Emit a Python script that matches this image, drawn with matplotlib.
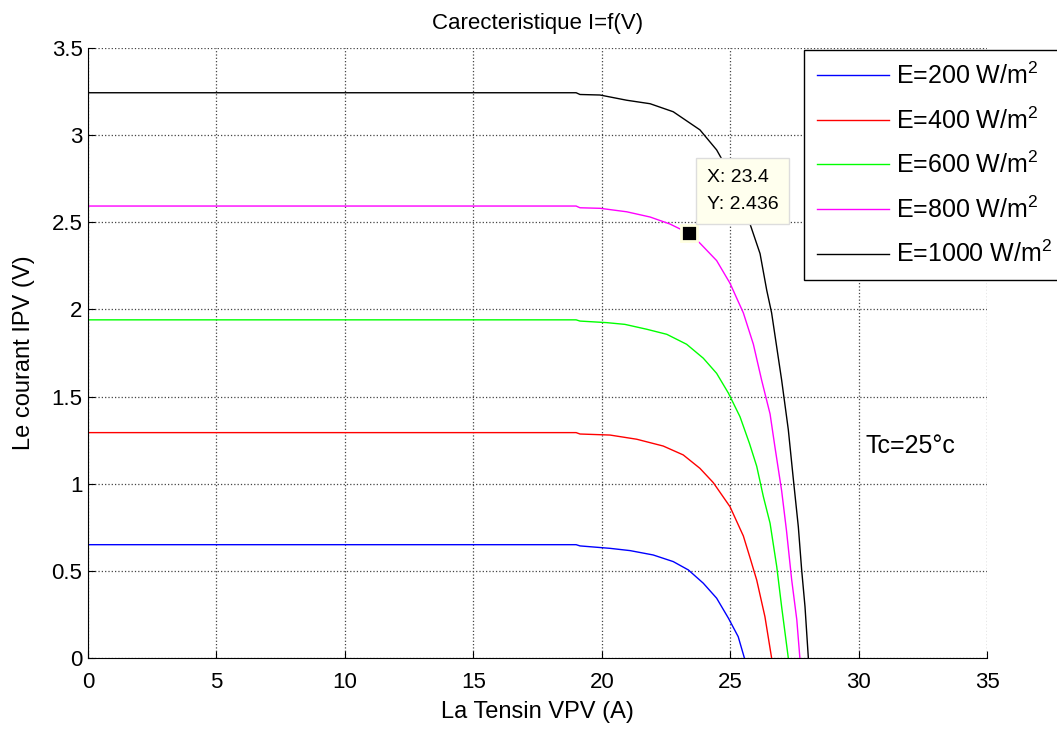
import matplotlib.pyplot as plt

plt.rcParams['font.family'] = ['Liberation Sans', 'DejaVu Sans']
plt.rcParams['mathtext.fontset'] = 'custom'
plt.rcParams['mathtext.rm'] = 'Liberation Sans'

# I-V curves, one per irradiance level
v_200 = [0, 19.0, 19.15, 20.32, 21.1, 22.0, 22.78, 23.37, 23.95, 24.47, 24.93, 25.31, 25.55]
i_200 = [0.650, 0.650, 0.643, 0.629, 0.616, 0.591, 0.553, 0.505, 0.429, 0.343, 0.228, 0.122, 0.0]

v_400 = [0, 19.0, 19.15, 20.32, 21.36, 22.39, 23.17, 23.82, 24.34, 24.99, 25.51, 25.77, 26.03, 26.35, 26.61]
i_400 = [1.293, 1.293, 1.285, 1.279, 1.255, 1.216, 1.165, 1.088, 1.006, 0.868, 0.700, 0.575, 0.447, 0.237, 0.0]

v_600 = [0, 19.0, 19.15, 20.19, 20.9, 21.75, 22.53, 23.3, 23.95, 24.47, 24.93, 25.38, 25.75, 26.03, 26.29, 26.55, 26.81, 27.0, 27.26]
i_600 = [1.940, 1.940, 1.933, 1.924, 1.914, 1.886, 1.857, 1.800, 1.720, 1.633, 1.519, 1.384, 1.230, 1.100, 0.925, 0.773, 0.524, 0.294, 0.0]

v_800 = [0, 19.0, 19.15, 19.93, 20.97, 21.88, 22.65, 23.4, 23.82, 24.47, 24.99, 25.51, 25.9, 26.22, 26.55, 26.74, 27.0, 27.19, 27.39, 27.59, 27.71]
i_800 = [2.593, 2.593, 2.583, 2.580, 2.560, 2.530, 2.490, 2.436, 2.380, 2.280, 2.150, 1.980, 1.800, 1.595, 1.400, 1.210, 0.960, 0.730, 0.450, 0.220, 0.0]

v_1000 = [0, 19.0, 19.15, 19.93, 20.97, 21.88, 22.78, 23.82, 24.47, 25.1, 25.77, 26.16, 26.42, 26.61, 27.0, 27.26, 27.46, 27.65, 27.78, 27.91, 28.04]
i_1000 = [3.243, 3.243, 3.233, 3.230, 3.200, 3.180, 3.134, 3.030, 2.915, 2.750, 2.490, 2.320, 2.110, 1.980, 1.595, 1.310, 1.020, 0.753, 0.505, 0.294, 0.0]

labels = ['E=200 W/m$^2$', 'E=400 W/m$^2$', 'E=600 W/m$^2$', 'E=800 W/m$^2$', 'E=1000 W/m$^2$']
colors = ['blue', 'red', 'lime', 'magenta', 'black']

# data tip
tip_x, tip_y = 23.4, 2.436

fig = plt.figure(figsize=(10.57, 7.31), dpi=100)
ax = fig.add_axes([0.0833, 0.0999, 0.8506, 0.8345])

series = [(v_200, i_200), (v_400, i_400), (v_600, i_600), (v_800, i_800), (v_1000, i_1000)]
for (v, i), lab, col in zip(series, labels, colors):
    ax.plot(v, i, color=col, lw=1.0, label=lab)

ax.set_xlim(0, 35)
ax.set_ylim(0, 3.5)
ax.set_xticks(range(0, 36, 5))
ax.set_yticks([0, 0.5, 1, 1.5, 2, 2.5, 3, 3.5])
ax.set_yticklabels(['0', '0.5', '1', '1.5', '2', '2.5', '3', '3.5'])
ax.grid(True, linestyle=':', color='#444444', lw=0.9)
ax.spines['top'].set_visible(False)
ax.spines['right'].set_visible(False)
ax.tick_params(direction='in', length=5, labelsize=16)
ax.tick_params(axis='x', pad=10)
ax.tick_params(axis='y', pad=4)

ax.set_title('Carecteristique I=f(V)', fontsize=16, pad=14)
ax.set_xlabel('La Tensin VPV (A)', fontsize=17, labelpad=6)
ax.set_ylabel('Le courant IPV (V)', fontsize=17, labelpad=12)

# data tip marker and box
ax.plot([tip_x], [tip_y], marker='s', ms=11, color='black', mec='#ffffe0', mew=2.0, zorder=5)
ax.annotate('X: 23.4\nY: 2.436', xy=(tip_x, tip_y), xytext=(18, 20), textcoords='offset pixels',
            fontsize=14, ha='left', va='bottom', linespacing=1.8,
            bbox=dict(boxstyle='square,pad=0.55', fc='#ffffee', ec='#dddddd'), zorder=6)

ax.text(30.25, 1.176, 'Tc=25°c', fontsize=18, va='baseline')

leg = ax.legend(loc='upper left', bbox_to_anchor=(804 / 1057, 1 - 50 / 731), bbox_transform=fig.transFigure,
                borderaxespad=0, fontsize=18, frameon=True, fancybox=False, edgecolor='black', framealpha=1,
                handlelength=2.9, labelspacing=0.73, borderpad=0.5, handletextpad=0.3)
leg.get_frame().set_linewidth(1.0)

plt.savefig('out.png', dpi=100)
